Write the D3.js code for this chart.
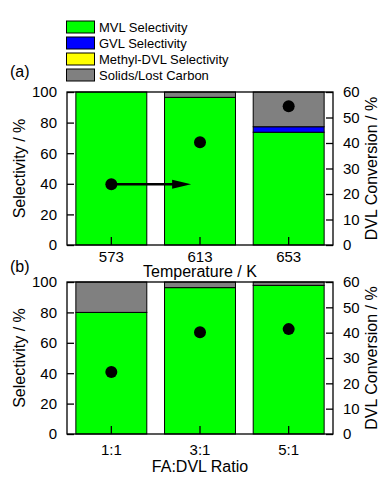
<!DOCTYPE html>
<html>
<head>
<meta charset="utf-8">
<script src="https://cdn.jsdelivr.net/npm/d3@7.9.0/dist/d3.min.js"></script>
<style>
  body { margin: 0; background: #fff; }
  svg { display: block; font-family: 'Liberation Sans', Arial, sans-serif; }
</style>
</head>
<body>
<svg id="chart" width="387" height="497"></svg>
<script>
// ---- data ----
const keys = ['mvl', 'gvl', 'methyl', 'solids'];
const legendLabels = ['MVL Selectivity', 'GVL Selectivity', 'Methyl-DVL Selectivity', 'Solids/Lost Carbon'];
const colors = ['#00ff00', '#0000ff', '#ffff00', '#808080'];

const tempCategories = ['573', '613', '653'];
const tempMvl = [100, 96.5, 73.7];
const tempGvl = [0, 0, 3.6];
const tempMethyl = [0, 0, 0];
const tempSolids = [0, 3.5, 22.7];
const tempConversion = [23.8, 40.3, 54.4];

const ratioCategories = ['1:1', '3:1', '5:1'];
const ratioMvl = [80, 96.3, 97.8];
const ratioGvl = [0, 0, 0];
const ratioMethyl = [0, 0, 0];
const ratioSolids = [20, 3.7, 2.2];
const ratioConversion = [24.5, 40.2, 41.4];

const selectivityTicks = [0, 20, 40, 60, 80, 100];
const conversionTicks = [0, 10, 20, 30, 40, 50, 60];

// arrow in panel (a): from the 573 K point toward 613 K (category index units)
const arrowFrom = 0;
const arrowTo = 0.9;

const svg = d3.select('#chart');
const left = 67, right = 333;

const panels = [
  { tag: '(a)', top: 92, bottom: 245, cats: tempCategories,
    series: [tempMvl, tempGvl, tempMethyl, tempSolids], conv: tempConversion,
    title: 'Temperature / K', labelPad: 6, titleY: 277, tagY: 77, arrow: true },
  { tag: '(b)', top: 282, bottom: 434, cats: ratioCategories,
    series: [ratioMvl, ratioGvl, ratioMethyl, ratioSolids], conv: ratioConversion,
    title: 'FA:DVL Ratio', labelPad: 10, titleY: 472, tagY: 272, arrow: false }
];

// legend
const legend = svg.append('g');
legendLabels.forEach((lab, i) => {
  const cy = 27 + i * 16;
  legend.append('rect')
    .attr('x', 66.5).attr('y', cy - 6).attr('width', 28).attr('height', 12)
    .attr('fill', colors[i]).attr('stroke', '#000').attr('stroke-width', 1);
  legend.append('text')
    .attr('x', 99).attr('y', cy).attr('dy', '0.35em')
    .attr('font-size', 13).text(lab);
});

panels.forEach(p => {
  const g = svg.append('g');
  const x = d3.scaleBand().domain(p.cats).range([left, right]).paddingInner(0.2).paddingOuter(0.1);
  const y = d3.scaleLinear().domain([0, 100]).range([p.bottom, p.top]);
  const yc = d3.scaleLinear().domain([0, 60]).range([p.bottom, p.top]);

  const rows = p.cats.map((c, i) => {
    const r = { cat: c };
    keys.forEach((k, j) => r[k] = p.series[j][i]);
    return r;
  });
  const stacked = d3.stack().keys(keys)(rows);

  stacked.forEach((layer, j) => {
    g.selectAll(null).data(layer.filter(d => d[1] - d[0] > 0)).join('rect')
      .attr('x', d => x(d.data.cat))
      .attr('y', d => y(d[1]))
      .attr('width', x.bandwidth())
      .attr('height', d => y(d[0]) - y(d[1]))
      .attr('fill', colors[j])
      .attr('stroke', '#000')
      .attr('stroke-width', 1);
  });

  // frame
  g.append('rect')
    .attr('x', left).attr('y', p.top)
    .attr('width', right - left).attr('height', p.bottom - p.top)
    .attr('fill', 'none').attr('stroke', '#000').attr('stroke-width', 1.3);

  const yAxis = g.append('g').attr('transform', `translate(${left},0)`)
    .call(d3.axisLeft(y).tickValues(selectivityTicks).tickSize(-7).tickSizeOuter(0).tickPadding(10));
  const cAxis = g.append('g').attr('transform', `translate(${right},0)`)
    .call(d3.axisRight(yc).tickValues(conversionTicks).tickSize(-7).tickSizeOuter(0).tickPadding(10));
  const xAxis = g.append('g').attr('transform', `translate(0,${p.bottom})`)
    .call(d3.axisBottom(x).tickSize(-8).tickSizeOuter(0).tickPadding(p.labelPad));

  [yAxis, cAxis, xAxis].forEach(a => {
    a.selectAll('text').attr('font-size', 15).attr('fill', '#000')
      .attr('font-family', "'Liberation Sans', Arial, sans-serif");
    a.selectAll('line').attr('stroke', '#000').attr('stroke-width', 1.3);
    a.select('.domain').remove();
  });

  // conversion points
  const cx = d => x(d) + x.bandwidth() / 2;
  g.selectAll(null).data(p.cats).join('circle')
    .attr('cx', d => cx(d))
    .attr('cy', (d, i) => yc(p.conv[i]))
    .attr('r', 6)
    .attr('fill', '#000');

  if (p.arrow) {
    const xi = d3.scaleLinear().domain([0, p.cats.length - 1]).range([cx(p.cats[0]), cx(p.cats[p.cats.length - 1])]);
    const ay = yc(p.conv[0]);
    const x0 = xi(arrowFrom), x1 = xi(arrowTo);
    g.append('line')
      .attr('x1', x0).attr('x2', x1 - 12).attr('y1', ay).attr('y2', ay)
      .attr('stroke', '#000').attr('stroke-width', 2.5);
    g.append('path')
      .attr('d', `M${x1},${ay} L${x1 - 19},${ay - 4.5} L${x1 - 19},${ay + 4.5} Z`)
      .attr('fill', '#000');
  }

  // titles
  g.append('text')
    .attr('x', 10).attr('y', p.tagY)
    .attr('font-size', 16).text(p.tag);
  g.append('text')
    .attr('transform', `translate(25,${(p.top + p.bottom) / 2}) rotate(-90)`)
    .attr('text-anchor', 'middle').attr('font-size', 16).text('Selectivity / %');
  g.append('text')
    .attr('transform', `translate(377,${(p.top + p.bottom) / 2}) rotate(-90)`)
    .attr('text-anchor', 'middle').attr('font-size', 16).text('DVL Conversion / %');
  g.append('text')
    .attr('x', (left + right) / 2).attr('y', p.titleY)
    .attr('text-anchor', 'middle').attr('font-size', 16).text(p.title);
});
</script>
</body>
</html>
